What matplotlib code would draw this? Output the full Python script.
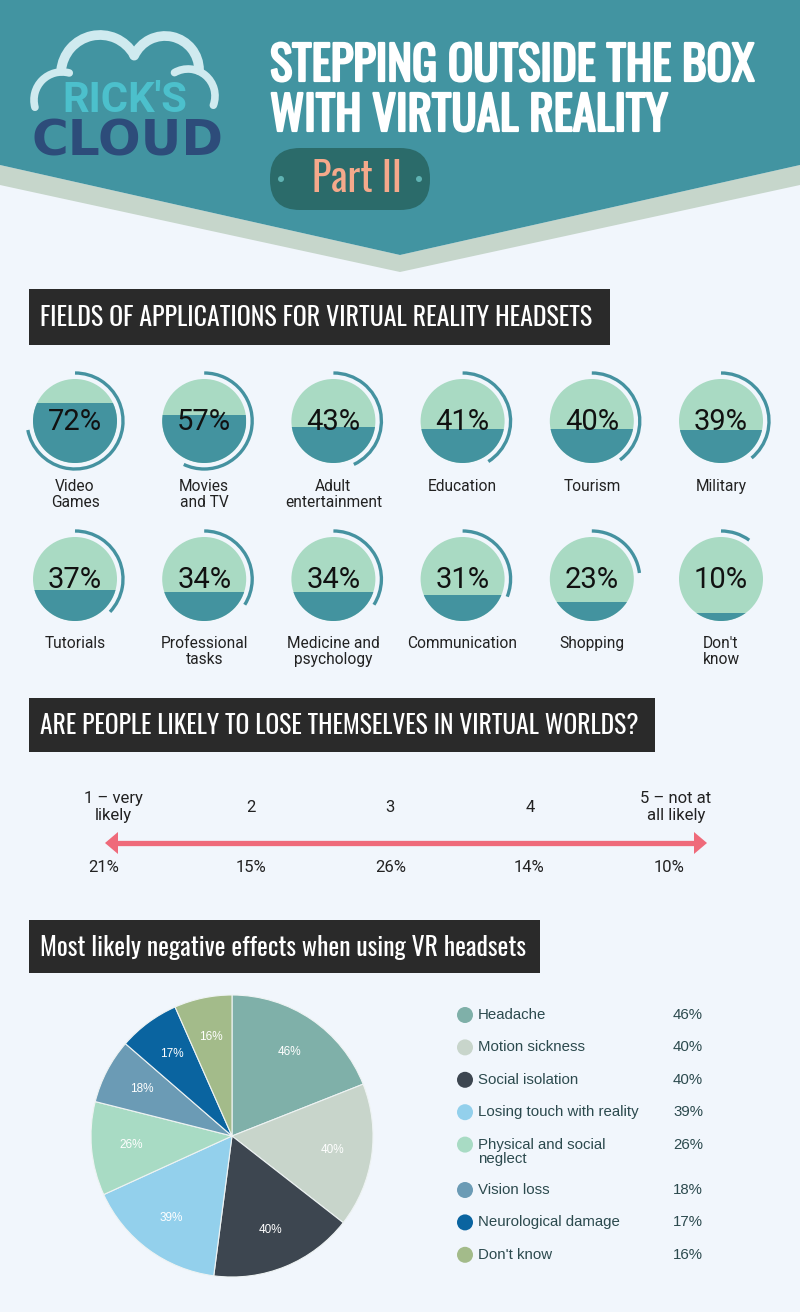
import matplotlib
matplotlib.use('Agg')
import matplotlib.pyplot as plt
import matplotlib.patheffects as pe
from matplotlib.patches import Polygon, Rectangle, Circle, Arc, FancyBboxPatch
from matplotlib import font_manager as fm

# ---------------- data ----------------
field_labels = ["Video\nGames", "Movies\nand TV", "Adult\nentertainment", "Education",
                "Tourism", "Military", "Tutorials", "Professional\ntasks",
                "Medicine and\npsychology", "Communication", "Shopping", "Don't\nknow"]
field_values = [72, 57, 43, 41, 40, 39, 37, 34, 34, 31, 23, 10]

scale_labels = ["1 – very\nlikely", "2", "3", "4", "5 – not at\nall likely"]
scale_values = [21, 15, 26, 14, 10]

effect_labels = ["Headache", "Motion sickness", "Social isolation", "Losing touch with reality",
                 "Physical and social\nneglect", "Vision loss", "Neurological damage", "Don't know"]
effect_values = [46, 40, 40, 39, 26, 18, 17, 16]
effect_colors = ["#7fb0a9", "#c8d5cb", "#3d4650", "#93d0ec", "#a8dbc4", "#6b9bb5", "#0a64a0", "#a3bb8a"]

title_lines = ["STEPPING OUTSIDE THE BOX", "WITH VIRTUAL REALITY"]
section_titles = ["FIELDS OF APPLICATIONS FOR VIRTUAL REALITY HEADSETS",
                  "ARE PEOPLE LIKELY TO LOSE THEMSELVES IN VIRTUAL WORLDS?",
                  "Most likely negative effects when using VR headsets"]

# ---------------- fonts ----------------
names = {f.name for f in fm.fontManager.ttflist}
def pick(cands, default):
    for c in cands:
        if c in names:
            return c
    return default
COND = pick(['Oswald', 'Roboto Condensed', 'Liberation Sans Narrow', 'DejaVu Sans Condensed',
             'Open Sans Condensed'], 'DejaVu Sans')
ROBOTO = pick(['Roboto'], 'DejaVu Sans')
ARIAL = pick(['Liberation Sans'], 'DejaVu Sans')

BG = '#f1f6fc'
TEAL = '#4294a1'
BAND = '#c6d6cb'
MINT = '#a9dac3'
GTEAL = '#43939f'
DARK = '#2a2a2a'
PINK = '#ef6a7a'

fig = plt.figure(figsize=(8, 13.12), dpi=100)
fig.patch.set_facecolor(BG)
ax = fig.add_axes([0, 0, 1, 1])
ax.set_xlim(0, 800)
ax.set_ylim(1312, 0)
ax.axis('off')

fig.canvas.draw()
R = fig.canvas.get_renderer()

def fit(t, width):
    bb = t.get_window_extent(renderer=R)
    t.set_fontsize(t.get_fontsize() * width / bb.width)
    return t.get_fontsize()

# ---------------- header ----------------
ax.add_patch(Polygon([(0, 165), (400, 255), (800, 165), (800, 185), (400, 272), (0, 185)],
                     closed=True, facecolor=BAND, edgecolor='none'))
ax.add_patch(Polygon([(0, 0), (800, 0), (800, 165), (400, 255), (0, 165)],
                     closed=True, facecolor=TEAL, edgecolor='none'))

# logo cloud
CLOUDC = '#cfeaef'
for (cx, cy, r, t1, t2, lw) in [(62, 100, 28, 165, 285, 5.5), (100, 74, 39, 185, 330, 7),
                                (165, 70, 34, 205, 360, 7), (188, 96, 27, 240, 380, 5.5)]:
    ax.add_patch(Arc((cx, cy), 2 * r, 2 * r, theta1=t1, theta2=t2, color=CLOUDC, lw=lw,
                     capstyle='round'))
t = ax.text(125, 101, "RICK'S", family=ROBOTO, fontweight='bold', color='#4cc0cc',
            ha='center', va='center', fontsize=22)
fit(t, 125)
t = ax.text(128, 142, "CLOUD", family='DejaVu Sans', fontweight='bold', color='#2d4c7a',
            ha='center', va='center', fontsize=36)
fit(t, 192)

# title
bold = [pe.withStroke(linewidth=1.6, foreground='white')]
t1 = ax.text(270, 66, title_lines[0], family=COND, fontweight='bold', fontstretch='condensed',
             color='white', ha='left', va='center', fontsize=30, path_effects=bold)
fs = fit(t1, 485)
ax.text(270, 116, title_lines[1], family=COND, fontweight='bold', fontstretch='condensed',
        color='white', ha='left', va='center', fontsize=fs, path_effects=bold)

# Part II pill
ax.add_patch(FancyBboxPatch((270, 148), 160, 62, boxstyle='round,pad=0,rounding_size=30',
                            facecolor='#2b6b6a', edgecolor='none'))
for x in (281, 419):
    ax.add_patch(Circle((x, 179), 3, facecolor='#5fb3b3', edgecolor='none'))
t = ax.text(357, 179, "Part II", family=COND, fontstretch='condensed', color='#f5a98b',
            ha='center', va='center', fontsize=28)
fit(t, 90)

# ---------------- section boxes ----------------
boxes = [(29, 289, 581, 56, 555), (29, 698, 626, 54, 602), (29, 920, 511, 53, 487)]
for (bx, by, bw, bh, tw), s in zip(boxes, section_titles):
    ax.add_patch(Rectangle((bx, by), bw, bh, facecolor=DARK, edgecolor='none'))
    t = ax.text(bx + 11, by + bh / 2 + 1, s, family=COND, fontstretch='condensed',
                color='white', ha='left', va='center', fontsize=18)
    fit(t, tw)

# ---------------- gauges ----------------
r_in, r_arc = 42, 48
for i, (lab, v) in enumerate(zip(field_labels, field_values)):
    cx = 75 + 129.2 * (i % 6)
    cy = 421 + 158 * (i // 6)
    circ = Circle((cx, cy), r_in, facecolor=MINT, edgecolor='none')
    ax.add_patch(circ)
    h = 2 * r_in * v / 100
    rect = Rectangle((cx - r_in, cy + r_in - h), 2 * r_in, h, facecolor=GTEAL, edgecolor='none')
    ax.add_patch(rect)
    rect.set_clip_path(circ)
    ax.add_patch(Arc((cx, cy), 2 * r_arc, 2 * r_arc, theta1=-90, theta2=-90 + 360 * v / 100,
                     color='#4592a0', lw=2.4))
    ax.text(cx, cy + 1, f"{v}%", family=ROBOTO, fontsize=21, color='#111111',
            ha='center', va='center')
    ax.text(cx, cy + 58 - (i // 6), lab, family=ROBOTO, fontsize=11.2, color='#222222',
            ha='center', va='top', linespacing=1.08)

# ---------------- likelihood scale ----------------
ly = 843
x_left, x_right = 105, 707
ax.plot([x_left + 10, x_right - 10], [ly, ly], color=PINK, lw=3.8, solid_capstyle='butt')
ax.add_patch(Polygon([(x_left, ly), (x_left + 13, ly - 11), (x_left + 13, ly + 11)],
                     facecolor=PINK, edgecolor='none'))
ax.add_patch(Polygon([(x_right, ly), (x_right - 13, ly - 11), (x_right - 13, ly + 11)],
                     facecolor=PINK, edgecolor='none'))
label_x = [113, 251, 390, 530, 676]
val_x = [104, 251, 391, 529, 669]
for lab, v, lx, vx in zip(scale_labels, scale_values, label_x, val_x):
    ax.text(lx, 807, lab, family=ROBOTO, fontsize=12, color='#222222',
            ha='center', va='center', linespacing=1.1)
    ax.text(vx, 867, f"{v}%", family=ROBOTO, fontsize=12, color='#222222',
            ha='center', va='center')

# ---------------- pie ----------------
pcx, pcy, pr = 232, 1136, 141
pax = fig.add_axes([(pcx - pr) / 800, (1312 - pcy - pr) / 1312, 2 * pr / 800, 2 * pr / 1312])
vals_iter = iter(effect_values)
pax.pie(effect_values, colors=effect_colors, startangle=90, counterclock=False,
        wedgeprops=dict(edgecolor='#eef3f3', linewidth=0.8),
        autopct=lambda p: f"{next(vals_iter)}%", pctdistance=0.72,
        textprops=dict(color='white', fontsize=8.5, family=ARIAL))
pax.set_xlim(-1, 1)
pax.set_ylim(-1, 1)
pax.set_aspect('equal')
pax.axis('off')

# legend
ly0 = 1015
for lab, v, c in zip(effect_labels, effect_values, effect_colors):
    ax.add_patch(Circle((465, ly0), 8, facecolor=c, edgecolor='none'))
    ax.text(478, ly0 - 7, lab, family=ARIAL, fontsize=10.8, color='#2c4a4e',
            ha='left', va='top', linespacing=1.05)
    ax.text(673, ly0 - 7, f"{v}%", family=ARIAL, fontsize=10.8, color='#2c4a4e',
            ha='left', va='top')
    ly0 += 32.4 + 13 * lab.count('\n')

fig.savefig('out.png', dpi=100, facecolor=BG)
